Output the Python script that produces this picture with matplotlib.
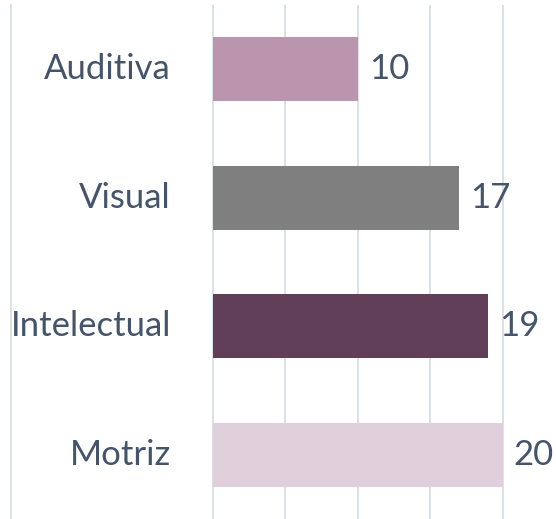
import matplotlib
matplotlib.use("Agg")
import matplotlib.pyplot as plt

# data
categories = ["Auditiva", "Visual", "Intelectual", "Motriz"]
values = [10, 17, 19, 20]
colors = ["#BA95AD", "#7F7F7F", "#623F58", "#DFCFDA"]

plt.rcParams['font.family'] = ['Lato', 'DejaVu Sans']
text_color = "#44546A"
grid_color = "#D9DEE6"

fig = plt.figure(figsize=(5.56, 5.19), dpi=100)
ax = fig.add_axes([11 / 556, 0, 1 - 11 / 556, 514 / 519])

pos = list(range(len(categories)))
ax.barh(pos, values, height=0.5, color=colors, zorder=2)

ax.set_ylim(len(categories) - 0.5, -0.5)
ax.set_xlim(-13.93, 23.66)

ax.set_xticks([0, 5, 10, 15, 20])
ax.grid(axis="x", color=grid_color, linewidth=1.3, zorder=0)
ax.tick_params(left=False, bottom=False, labelleft=False, labelbottom=False)

for s in ["top", "right", "bottom"]:
    ax.spines[s].set_visible(False)
ax.spines["left"].set_color(grid_color)
ax.spines["left"].set_linewidth(1.3)

# category labels and value labels
for p, cat, v in zip(pos, categories, values):
    ax.text(-2.9, p, cat, ha="right", va="center", fontsize=25, color=text_color)
    ax.text(v + 0.75, p, str(v), ha="left", va="center", fontsize=25, color=text_color)

fig.savefig("out.png", dpi=100)
